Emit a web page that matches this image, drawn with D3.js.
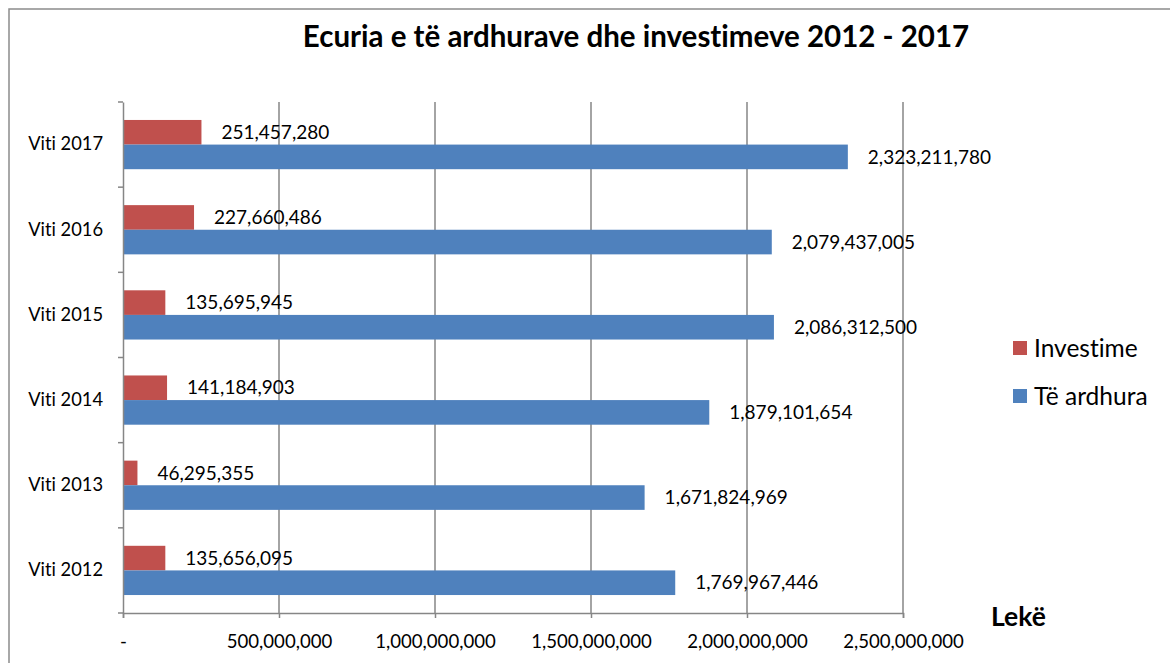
<!DOCTYPE html>
<html>
<head>
<meta charset="utf-8">
<script src="https://cdn.jsdelivr.net/npm/d3@7"></script>
<style>
  body { margin: 0; background: #fff; }
  svg text { font-family: Lato, "Open Sans", sans-serif; fill: #000; font-variant-ligatures: none; }
</style>
</head>
<body>
<svg id="chart"></svg>
<script>
// data
const years = ['Viti 2012', 'Viti 2013', 'Viti 2014', 'Viti 2015', 'Viti 2016', 'Viti 2017'];
const series = ['Investime', 'Të ardhura'];
const investime = [135656095, 46295355, 141184903, 135695945, 227660486, 251457280];
const ardhura = [1769967446, 1671824969, 1879101654, 2086312500, 2079437005, 2323211780];
const xTicks = [0, 500000000, 1000000000, 1500000000, 2000000000, 2500000000];
const colors = ['#C0504D', '#4F81BD'];

const width = 1170;
const height = 663;
const plotLeft = 123, plotRight = 903, plotTop = 102, plotBottom = 613;

const svg = d3.select('#chart')
    .attr('width', width)
    .attr('height', height);

// outer frame (right and bottom fall outside the picture)
svg.append('rect')
    .attr('x', 9).attr('y', 9)
    .attr('width', width + 20).attr('height', height + 20)
    .attr('fill', 'none')
    .attr('stroke', '#8c8c8c')
    .attr('stroke-width', 1.5);

const x = d3.scaleLinear().domain([0, 2500000000]).range([plotLeft, plotRight]);
// top of chart is the last year
const y = d3.scaleBand().domain(years.slice().reverse()).range([plotTop, plotBottom]);
const ySub = d3.scaleBand().domain(series).range([0, y.bandwidth()]).paddingOuter(0.73);

// gridlines
svg.append('g')
    .selectAll('line')
    .data(xTicks.slice(1))
    .join('line')
    .attr('x1', d => x(d)).attr('x2', d => x(d))
    .attr('y1', plotTop).attr('y2', plotBottom)
    .attr('stroke', '#868686')
    .attr('stroke-width', 1.5);

// bars
const rows = years.map((yr, i) => ({ yr, vals: [investime[i], ardhura[i]] }));

const groups = svg.append('g')
    .selectAll('g')
    .data(rows)
    .join('g')
    .attr('transform', d => `translate(0,${y(d.yr)})`);

groups.selectAll('rect')
    .data(d => d.vals.map((v, k) => ({ v, k })))
    .join('rect')
    .attr('x', x(0))
    .attr('y', d => ySub(series[d.k]))
    .attr('width', d => x(d.v) - x(0))
    .attr('height', ySub.bandwidth())
    .attr('fill', d => colors[d.k]);

groups.selectAll('text')
    .data(d => d.vals.map((v, k) => ({ v, k })))
    .join('text')
    .attr('x', d => x(d.v) + 20)
    .attr('y', d => ySub(series[d.k]) + ySub.bandwidth() / 2)
    .attr('dy', '0.35em')
    .style('font-size', '19px')
    .text(d => d3.format(',')(d.v));

// x axis
const xAxis = svg.append('g')
    .attr('transform', `translate(0,${plotBottom})`)
    .call(d3.axisBottom(x).tickValues(xTicks).tickSize(5)
        .tickFormat(d => d === 0 ? '-' : d3.format(',')(d)));
xAxis.select('.domain').attr('stroke', '#868686').attr('stroke-width', 1.5);
xAxis.selectAll('.tick line').attr('stroke', '#868686').attr('stroke-width', 1.5);
xAxis.selectAll('.tick text')
    .attr('y', 22)
    .style('font-size', '18.6px')
    .style('font-family', 'Lato, sans-serif')
    .attr('fill', '#000');

// y axis
const yAxis = svg.append('g')
    .attr('transform', `translate(${plotLeft},0)`)
    .call(d3.axisLeft(y).tickSize(0).tickPadding(20));
yAxis.select('.domain').attr('stroke', '#868686').attr('stroke-width', 1.5);
yAxis.selectAll('.tick text')
    .style('font-size', '18.3px')
    .style('font-family', 'Lato, sans-serif')
    .attr('fill', '#000');

// category boundary ticks
const bounds = years.map(yr => y(yr)).concat([plotBottom]);
svg.append('g')
    .selectAll('line')
    .data(bounds)
    .join('line')
    .attr('x1', plotLeft - 5).attr('x2', plotLeft)
    .attr('y1', d => d).attr('y2', d => d)
    .attr('stroke', '#868686')
    .attr('stroke-width', 1.5);

// title
svg.append('text')
    .attr('x', 636).attr('y', 47)
    .attr('text-anchor', 'middle')
    .style('font-size', '29.5px')
    .style('font-weight', 'bold')
    .text('Ecuria e të ardhurave dhe investimeve 2012 - 2017');

// unit label
svg.append('text')
    .attr('x', 991).attr('y', 626)
    .style('font-size', '26.5px')
    .style('font-weight', 'bold')
    .text('Lekë');

// legend
const legend = svg.append('g')
    .selectAll('g')
    .data(series)
    .join('g')
    .attr('transform', (d, i) => `translate(1013,${341 + i * 48})`);

legend.append('rect')
    .attr('width', 14).attr('height', 14)
    .attr('fill', (d, i) => colors[i]);

legend.append('text')
    .attr('x', 21).attr('y', 7)
    .attr('dy', '0.35em')
    .style('font-size', '24.5px')
    .text(d => d);
</script>
</body>
</html>
